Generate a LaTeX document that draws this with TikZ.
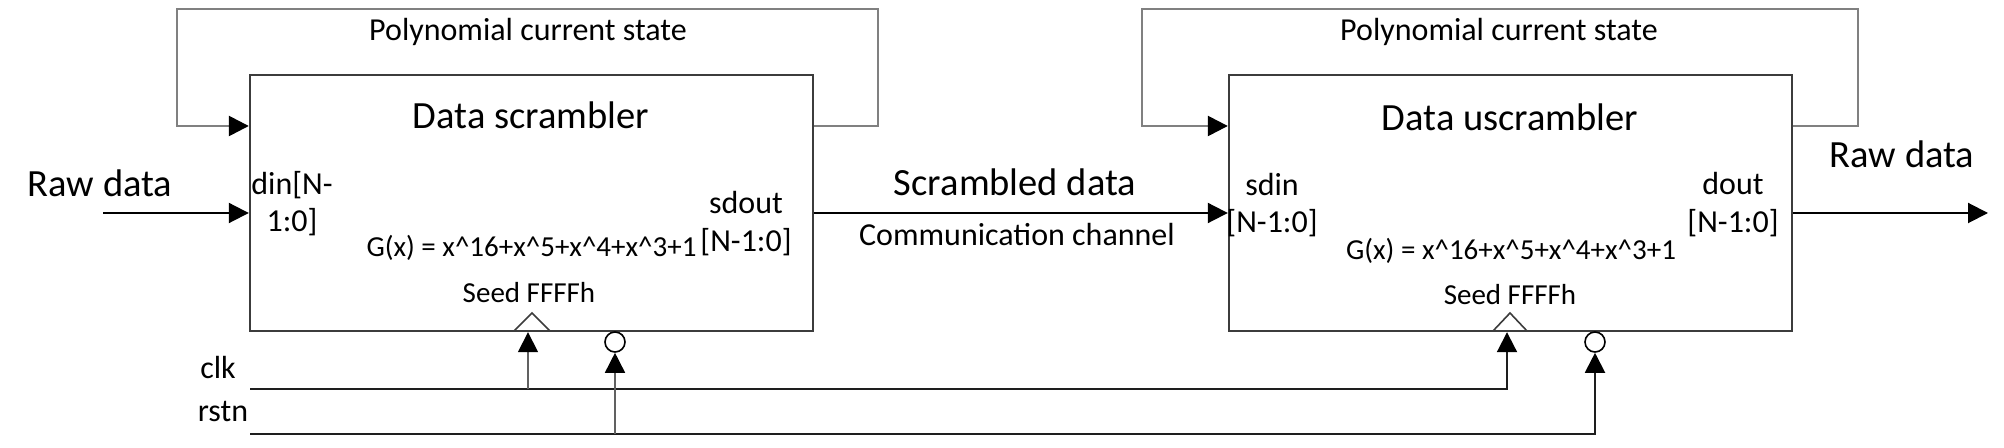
\documentclass[tikz,border=0pt]{standalone}
\usepackage{fontspec}
\setmainfont{Carlito}
\usetikzlibrary{arrows.meta}
\definecolor{boxc}{RGB}{60,60,60}
\definecolor{fbc}{RGB}{128,128,128}
\definecolor{sigc}{RGB}{30,30,30}
\begin{document}
\begin{tikzpicture}[x=0.5pt,y=-0.5pt,
  blk/.style={draw=boxc, line width=1.2pt, minimum width=281.5pt, minimum height=128pt, inner sep=0pt},
  fb/.style={draw=fbc, line width=1.3pt},
  dl/.style={draw=black, line width=1pt},
  sig/.style={draw=sigc, line width=1pt},
  vsig/.style={draw=sigc!70, line width=0.8pt},
  tip/.tip={Triangle[length=10pt,width=10pt,color=black]},
  big/.style={inner sep=0pt, font=\fontsize{19.25pt}{23pt}\selectfont},
  med/.style={inner sep=0pt, font=\fontsize{16pt}{18.5pt}\selectfont},
  sml/.style={inner sep=0pt, font=\fontsize{14.5pt}{17pt}\selectfont},
  bub/.style={circle, draw=black, line width=0.8pt, minimum size=10pt, inner sep=0pt}
]
\useasboundingbox[fill=white] (0,0) rectangle (2004,448);

% blocks
\node[blk] (sc) at (531.5,203) {};
\node[blk] (us) at (1510.5,203) {};

% feedback loops
\coordinate (f1a) at (878,126); \coordinate (f1b) at (878,9);
\coordinate (f1c) at (177,9);   \coordinate (f1d) at (177,126);
\draw[fb,-tip] (sc.east |- f1a) -- (f1a) -- (f1b) -- (f1c) -- (f1d) -- (sc.west |- f1d);
\coordinate (f2a) at (1858,126); \coordinate (f2b) at (1858,9);
\coordinate (f2c) at (1142,9);   \coordinate (f2d) at (1142,126);
\draw[fb,-tip] (us.east |- f2a) -- (f2a) -- (f2b) -- (f2c) -- (f2d) -- (us.west |- f2d);
\node[med] (p1) at (528,32) {Polynomial current state};
\node[med] (p2) at (1499,32) {Polynomial current state};

% titles
\node[big] (t1) at (531,115) {Data scrambler};
\node[big] (t2) at (1510,117) {Data uscrambler};

% data path
\coordinate (rin) at (103,213);
\coordinate (rout) at (1988,213);
\draw[dl,-tip] (rin) -- ([yshift=-5pt]sc.west);
\draw[dl,-tip] ([yshift=-5pt]sc.east) -- ([yshift=-5pt]us.west);
\draw[dl,-tip] ([yshift=-5pt]us.east) -- (rout);
\node[big] (rd1) at (100,183) {Raw data};
\node[big] (rd2) at (1902,154) {Raw data};
\node[big] (scd) at (1015,182) {Scrambled data};
\node[med] (cc) at (1017,235) {Communication channel};

% ports
\node[med, align=center] (din) at (292,204) {din[N-\\1:0]};
\node[med] (sdo1) at (746,203) {sdout};
\node[med] (sdo2) at (746,242) {[N-1:0]};
\node[med] (sdi1) at (1272,185) {sdin};
\node[med] (sdi2) at (1272,223) {[N-1:0]};
\node[med] (do1) at (1733,184) {dout};
\node[med] (do2) at (1733,223) {[N-1:0]};

% polynomial and seed
\node[sml] (g1) at (531.5,248) {G(x) = x\textasciicircum 16+x\textasciicircum 5+x\textasciicircum 4+x\textasciicircum 3+1};
\node[sml] (g2) at (1511,251) {G(x) = x\textasciicircum 16+x\textasciicircum 5+x\textasciicircum 4+x\textasciicircum 3+1};
\node[sml] (s1) at (529,293) {Seed FFFFh};
\node[sml] (s2) at (1510,295) {Seed FFFFh};

% clock triangles
\draw[draw=boxc, line width=0.8pt] (514,331) -- (532,313) -- (550,331);
\draw[draw=boxc, line width=0.8pt] (1493,331) -- (1510,313) -- (1527,331);

% reset bubbles
\node[bub] (c1) at (615,342) {};
\node[bub] (c2) at (1595,342) {};

% clk / rstn
\node[med] (clk) at (218,368) {clk};
\node[med] (rstn) at (223,412) {rstn};
\coordinate (k0) at (250,389); \coordinate (k1) at (1507,389); \coordinate (kb) at (528,389);
\coordinate (r0) at (250,434); \coordinate (r1) at (1595,434);
\draw[sig,-tip] (k0) -- (k1) -- (k1 |- us.south);
\draw[vsig,-tip] (kb) -- (kb |- sc.south);
\draw[sig,-tip] (r0) -- (r1) -- (c2.south);
\draw[vsig,-tip] (r0 -| c1) -- (c1.south);
\end{tikzpicture}
\end{document}
